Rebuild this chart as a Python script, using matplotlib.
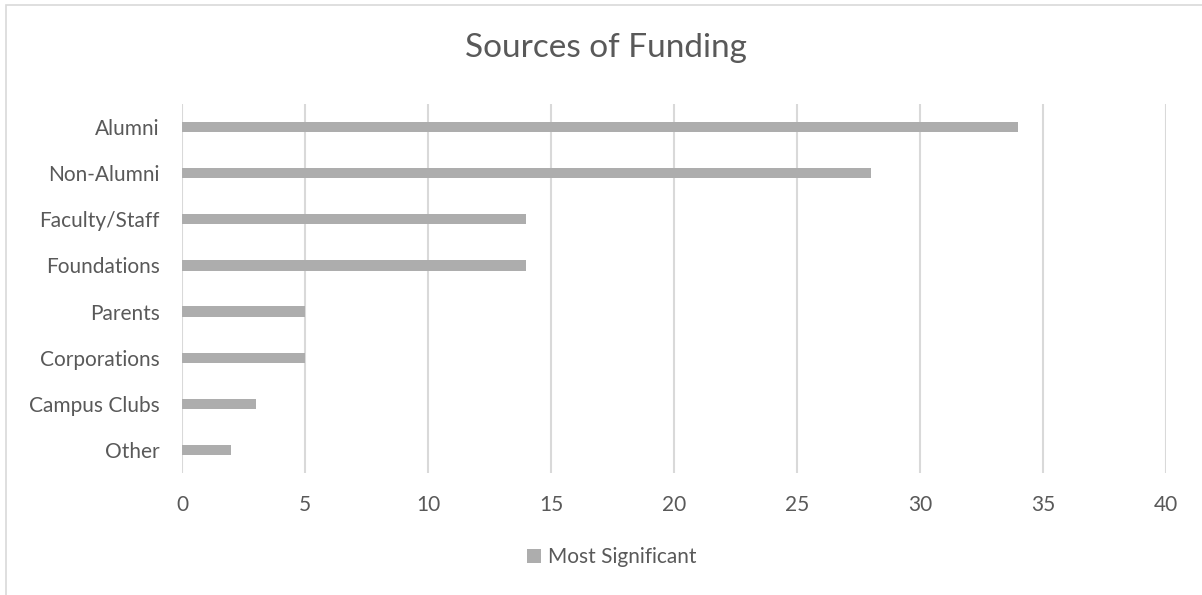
import matplotlib.pyplot as plt
from matplotlib.patches import Rectangle

categories = ["Alumni", "Non-Alumni", "Faculty/Staff", "Foundations",
              "Parents", "Corporations", "Campus Clubs", "Other"]
values = [34, 28, 14, 14, 5, 5, 3, 2]
x_ticks = [0, 5, 10, 15, 20, 25, 30, 35, 40]

text_color = "#595959"
bar_color = "#ADADAD"
grid_color = "#D9D9D9"

plt.rcParams["font.family"] = ["Lato", "DejaVu Sans"]

fig = plt.figure(figsize=(12.02, 5.95), dpi=100)
fig.patches.append(Rectangle((6 / 1202, -0.1), 1.2, (595 - 5) / 595 + 0.1,
                             transform=fig.transFigure, fill=False,
                             edgecolor="#D9D9D9", linewidth=1.2))

ax = fig.add_axes([182 / 1202, 1 - 473 / 595, (1166 - 182) / 1202, (473 - 104) / 595])
ypos = list(range(len(categories)))
ax.barh(ypos, values, height=0.22, color=bar_color, label="Most Significant", zorder=3)
ax.set_ylim(len(categories) - 0.5, -0.5)
ax.set_xlim(0, 40)
ax.set_xticks(x_ticks)
ax.set_yticks(ypos)
ax.set_yticklabels(categories)
ax.tick_params(length=0, colors=text_color, labelsize=15)
ax.tick_params(axis="x", pad=16)
ax.tick_params(axis="y", pad=16)
ax.grid(axis="x", color=grid_color, linewidth=1.5, zorder=0)
for s in ax.spines.values():
    s.set_visible(False)

fig.text(606 / 1202, 1 - 48 / 595, "Sources of Funding", ha="center", va="center",
         fontsize=24, color=text_color)

fig.legend(loc="center", bbox_to_anchor=(612 / 1202, 1 - 557 / 595), frameon=False,
           fontsize=15, labelcolor=text_color, handlelength=0.65, handleheight=0.65,
           handletextpad=0.35)

fig.savefig("out.png", dpi=100)
